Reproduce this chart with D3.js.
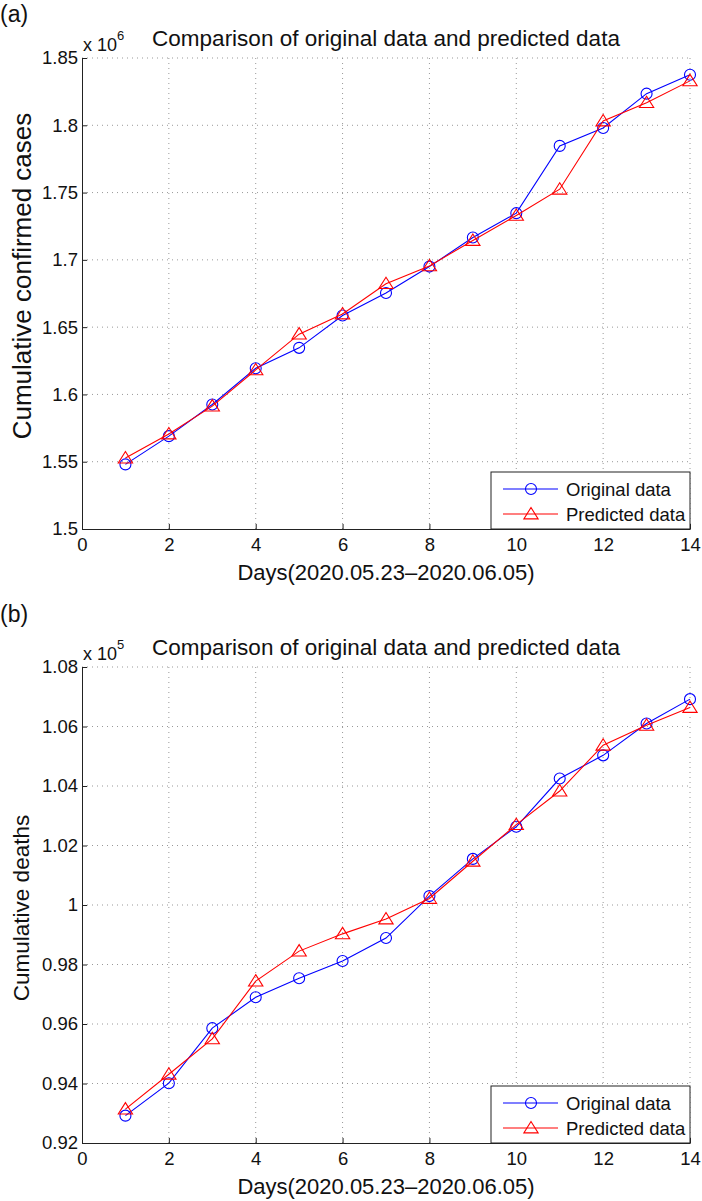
<!DOCTYPE html>
<html>
<head>
<meta charset="utf-8">
<script src="https://cdn.jsdelivr.net/npm/d3@7"></script>
<style>
  html, body { margin: 0; padding: 0; background: #fff; }
  svg { display: block; }
</style>
</head>
<body>
<div id="chart"></div>
<script>
// Days 1..14 (2020.05.23 - 2020.06.05)
const days = [1, 2, 3, 4, 5, 6, 7, 8, 9, 10, 11, 12, 13, 14]

// Cumulative confirmed cases, x 10^6
const casesOriginal = [1.548, 1.569, 1.5925, 1.6194, 1.6346, 1.6587, 1.6754, 1.695, 1.7166, 1.7347, 1.7847, 1.798, 1.8235, 1.8376]
const casesPredicted = [1.5527, 1.5706, 1.5913, 1.6182, 1.6448, 1.6598, 1.6823, 1.6955, 1.7144, 1.733, 1.7525, 1.8032, 1.8168, 1.833]

// Cumulative deaths, x 10^5
const deathsOriginal = [0.9292, 0.9401, 0.9586, 0.969, 0.9754, 0.9812, 0.9889, 1.003, 1.0155, 1.0263, 1.0425, 1.0503, 1.061, 1.0692]
const deathsPredicted = [0.9314, 0.9431, 0.955, 0.9744, 0.9845, 0.9903, 0.9953, 1.0022, 1.0147, 1.027, 1.0383, 1.0537, 1.0604, 1.0664]

const xTicks = [0, 2, 4, 6, 8, 10, 12, 14]
const casesTicks = [1.5, 1.55, 1.6, 1.65, 1.7, 1.75, 1.8, 1.85]
const deathsTicks = [0.92, 0.94, 0.96, 0.98, 1, 1.02, 1.04, 1.06, 1.08]

const seriesNames = ['Original data', 'Predicted data']
const BLUE = '#0000ff'
const RED = '#ff0000'
const FONT = '"Liberation Sans", Arial, Helvetica, sans-serif'

const W = 702, H = 1201
const svg = d3.select('#chart').append('svg')
  .attr('width', W).attr('height', H)
  .attr('viewBox', `0 0 ${W} ${H}`)

// the y label of (a) sits a little high and reads larger in the source figure
const panels = [
  {
    tag: '(a)', tagY: 22, top: 58, bottom: 529,
    yDomain: [1.5, 1.85], yTicks: casesTicks, exp: '6',
    yLabel: 'Cumulative confirmed cases', yLabelSize: 26, yLabelMid: 276, yLabelX: 31,
    original: casesOriginal, predicted: casesPredicted,
  },
  {
    tag: '(b)', tagY: 622, top: 667, bottom: 1143,
    yDomain: [0.92, 1.08], yTicks: deathsTicks, exp: '5',
    yLabel: 'Cumulative deaths', yLabelSize: 22.5, yLabelMid: 908, yLabelX: 29,
    original: deathsOriginal, predicted: deathsPredicted,
  },
]

const left = 82, right = 690

function trianglePath(s) {
  return `M0,${-s}L${s * 1.1},${s * 0.75}L${-s * 1.1},${s * 0.75}Z`
}

function drawPanel(p) {
  const g = svg.append('g')
  const x = d3.scaleLinear().domain([0, 14]).range([left, right])
  const y = d3.scaleLinear().domain(p.yDomain).range([p.bottom, p.top])

  // panel tag
  g.append('text')
    .attr('x', 0).attr('y', p.tagY)
    .attr('font-family', FONT).attr('font-size', '23px')
    .attr('fill', '#111')
    .text(p.tag)

  // dotted grid
  g.append('g').selectAll('line.gy')
    .data(p.yTicks.slice(1))
    .join('line')
    .attr('x1', left).attr('x2', right)
    .attr('y1', d => y(d)).attr('y2', d => y(d))
    .attr('stroke', '#999').attr('stroke-width', 1)
    .attr('stroke-dasharray', '1,4')
  g.append('g').selectAll('line.gx')
    .data(xTicks.slice(1))
    .join('line')
    .attr('x1', d => x(d)).attr('x2', d => x(d))
    .attr('y1', p.top).attr('y2', p.bottom)
    .attr('stroke', '#999').attr('stroke-width', 1)
    .attr('stroke-dasharray', '1,4')

  // axes
  g.append('g')
    .attr('transform', `translate(0,${p.bottom})`)
    .call(d3.axisBottom(x).tickValues(xTicks).tickSizeInner(-5).tickSizeOuter(0).tickPadding(9))
    .call(a => {
      a.select('.domain').attr('stroke', '#222')
      a.selectAll('.tick line').attr('stroke', '#222')
      a.selectAll('.tick text').attr('font-family', FONT).attr('font-size', '18.5px').attr('fill', '#111')
    })
  g.append('g')
    .attr('transform', `translate(${left},0)`)
    .call(d3.axisLeft(y).tickValues(p.yTicks).tickFormat(d3.format('')).tickSizeInner(-5).tickSizeOuter(0).tickPadding(4))
    .call(a => {
      a.select('.domain').attr('stroke', '#222')
      a.selectAll('.tick line').attr('stroke', '#222')
      a.selectAll('.tick text').attr('font-family', FONT).attr('font-size', '18.5px').attr('fill', '#111')
    })

  // exponent label
  const ex = g.append('text')
    .attr('x', left + 1).attr('y', p.top - 7)
    .attr('font-family', FONT).attr('font-size', '18px').attr('fill', '#111')
  ex.append('tspan').text('x 10')
  ex.append('tspan').attr('dy', -11).attr('font-size', '13px').text(p.exp)

  // title
  g.append('text')
    .attr('x', (left + right) / 2).attr('y', p.top - 12)
    .attr('text-anchor', 'middle')
    .attr('font-family', FONT).attr('font-size', '22.5px').attr('fill', '#111')
    .text('Comparison of original data and predicted data')

  // axis labels
  g.append('text')
    .attr('transform', `translate(${p.yLabelX},${p.yLabelMid}) rotate(-90)`)
    .attr('text-anchor', 'middle')
    .attr('font-family', FONT).attr('font-size', p.yLabelSize + 'px').attr('fill', '#111')
    .text(p.yLabel)
  g.append('text')
    .attr('x', (left + right) / 2).attr('y', p.bottom + 51)
    .attr('text-anchor', 'middle')
    .attr('font-family', FONT).attr('font-size', '22px').attr('fill', '#111')
    .text('Days(2020.05.23\u20132020.06.05)')

  const line = d3.line().x((d, i) => x(days[i])).y(d => y(d))

  // original series (blue, circles)
  g.append('path').datum(p.original)
    .attr('d', line).attr('fill', 'none')
    .attr('stroke', BLUE).attr('stroke-width', 1.1)
  g.append('g').selectAll('circle')
    .data(p.original)
    .join('circle')
    .attr('cx', (d, i) => x(days[i])).attr('cy', d => y(d))
    .attr('r', 5.5)
    .attr('fill', 'none').attr('stroke', BLUE).attr('stroke-width', 1.1)

  // predicted series (red, triangles)
  g.append('path').datum(p.predicted)
    .attr('d', line).attr('fill', 'none')
    .attr('stroke', RED).attr('stroke-width', 1.1)
  g.append('g').selectAll('path.tri')
    .data(p.predicted)
    .join('path')
    .attr('transform', (d, i) => `translate(${x(days[i])},${y(d)})`)
    .attr('d', trianglePath(6.5))
    .attr('fill', 'none').attr('stroke', RED).attr('stroke-width', 1.1)

  // legend
  const lw = 199, lh = 57
  const lg = g.append('g').attr('transform', `translate(${right - lw},${p.bottom - lh})`)
  lg.append('rect')
    .attr('width', lw).attr('height', lh)
    .attr('fill', '#fff').attr('stroke', '#222').attr('stroke-width', 1)
  seriesNames.forEach((name, i) => {
    const yy = 17 + i * 25
    const color = i === 0 ? BLUE : RED
    lg.append('line')
      .attr('x1', 12).attr('x2', 67).attr('y1', yy).attr('y2', yy)
      .attr('stroke', color).attr('stroke-width', 1.1)
    if (i === 0) {
      lg.append('circle').attr('cx', 40).attr('cy', yy).attr('r', 5.5)
        .attr('fill', 'none').attr('stroke', color).attr('stroke-width', 1.1)
    } else {
      lg.append('path').attr('transform', `translate(40,${yy})`)
        .attr('d', trianglePath(6.5))
        .attr('fill', 'none').attr('stroke', color).attr('stroke-width', 1.1)
    }
    lg.append('text')
      .attr('x', 75).attr('y', yy + 6.5)
      .attr('font-family', FONT).attr('font-size', '18.5px').attr('fill', '#111')
      .text(name)
  })
}

panels.forEach(drawPanel)
</script>
</body>
</html>
